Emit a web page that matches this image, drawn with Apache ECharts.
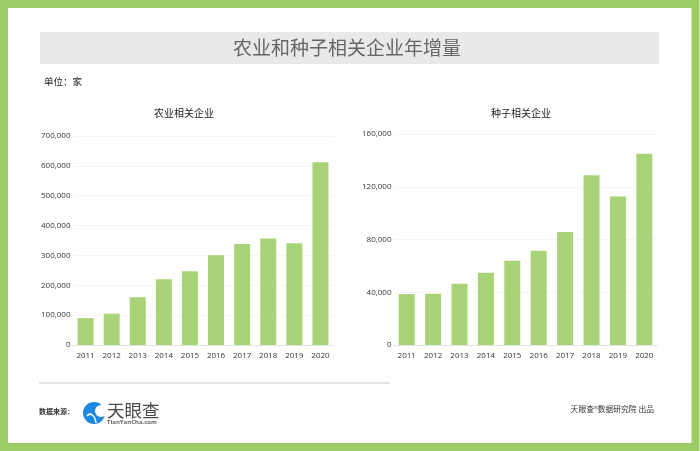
<!DOCTYPE html>
<html>
<head>
<meta charset="utf-8">
<script src="https://cdn.jsdelivr.net/npm/echarts@6/dist/echarts.min.js"></script>
<style>
html, body { margin: 0; padding: 0; background: #fff; }
#charts { width: 700px; height: 451px; }
</style>
</head>
<body>
<div id="charts"></div>
<script>
const years = ['2011', '2012', '2013', '2014', '2015', '2016', '2017', '2018', '2019', '2020'];
const farmValues = [90000, 105000, 160000, 220000, 247000, 301000, 338000, 357000, 341000, 612000];
const seedValues = [38600, 38900, 46500, 54800, 63900, 71500, 85600, 128800, 112600, 145000];

const mainTitle = '农业和种子相关企业年增量';
const unitText = '单位：家';
const farmTitle = '农业相关企业';
const seedTitle = '种子相关企业';
const sourceText = '数据来源：';
const brandText = '天眼查';
const brandUrl = 'TianYanCha.com';
const creditText = '天眼查®数据研究院 出品';

const cjk = '"Noto Sans CJK SC", sans-serif';
const latin = '"Open Sans", sans-serif';
const barColor = '#a9d377';
const frameColor = '#9ccc65';

const xAxisFor = (index) => ({
	type: 'category',
	gridIndex: index,
	data: years,
	axisTick: { show: false },
	axisLine: { lineStyle: { color: '#e4e4e4', width: 1 } },
	axisLabel: { color: '#333', fontFamily: latin, fontSize: 8, margin: 7, interval: 0 }
});

const yAxisFor = (index, max, interval) => ({
	type: 'value',
	gridIndex: index,
	min: 0,
	max: max,
	interval: interval,
	axisLine: { show: false },
	axisTick: { show: false },
	splitLine: { lineStyle: { color: '#f5f5f5', width: 1 } },
	axisLabel: {
		color: '#333',
		fontFamily: latin,
		fontSize: 8,
		margin: 2,
		padding: [0, 0, 5, 0],
		formatter: (v) => v.toLocaleString('en-US')
	}
});

const barsFor = (index, data) => ({
	type: 'bar',
	xAxisIndex: index,
	yAxisIndex: index,
	data: data,
	barWidth: 16,
	itemStyle: { color: barColor },
	silent: true
});

const myChart = echarts.init(document.getElementById('charts'));
myChart.setOption({
	animation: false,
	backgroundColor: '#fff',
	title: [
		{ text: farmTitle, left: 179, top: 103, textAlign: 'center', textStyle: { color: '#222', fontFamily: cjk, fontSize: 10, fontWeight: 'normal' } },
		{ text: seedTitle, left: 516, top: 103, textAlign: 'center', textStyle: { color: '#222', fontFamily: cjk, fontSize: 10, fontWeight: 'normal' } }
	],
	grid: [
		{ left: 72.5, width: 261, top: 136, height: 209 },
		{ left: 393.5, width: 264, top: 134, height: 211 }
	],
	xAxis: [xAxisFor(0), xAxisFor(1)],
	yAxis: [yAxisFor(0, 700000, 100000), yAxisFor(1, 160000, 40000)],
	series: [barsFor(0, farmValues), barsFor(1, seedValues)],
	graphic: [
		// frame
		{ type: 'rect', z: 0, shape: { x: 4, y: 4, width: 691.5, height: 443 }, style: { fill: 'none', stroke: frameColor, lineWidth: 8 } },
		// title band
		{ type: 'rect', z: 0, shape: { x: 40, y: 32, width: 619, height: 32 }, style: { fill: '#e9e9e9' } },
		{ type: 'text', x: 347, y: 48, style: { text: mainTitle, fill: '#666', font: '19px ' + cjk, textAlign: 'center', textVerticalAlign: 'middle' } },
		{ type: 'text', x: 44, y: 81, style: { text: unitText, fill: '#222', font: '9.5px ' + cjk, textVerticalAlign: 'middle' } },
		// footer
		{ type: 'line', shape: { x1: 39, y1: 383, x2: 390, y2: 383 }, style: { stroke: '#c8c8c8', lineWidth: 1 } },
		{ type: 'text', x: 39, y: 411, style: { text: sourceText, fill: '#333', font: 'bold 7px ' + cjk, textVerticalAlign: 'middle' } },
		// logo mark
		{ type: 'circle', shape: { cx: 94, cy: 413, r: 11 }, style: { fill: '#1e88e5' } },
		{ type: 'circle', shape: { cx: 101, cy: 411, r: 6 }, style: { fill: '#fff' } },
		{ type: 'bezierCurve', shape: { x1: 87, y1: 416, cpx1: 90, cpy1: 412, cpx2: 95, cpy2: 415, x2: 96, y2: 423 }, style: { fill: 'none', stroke: '#fff', lineWidth: 1.5 } },
		{ type: 'text', x: 107, y: 410.5, style: { text: brandText, fill: '#4a4a4a', font: '17.5px ' + cjk, textVerticalAlign: 'middle' } },
		{ type: 'text', x: 107, y: 422, style: { text: brandUrl, fill: '#666', font: 'bold 6px ' + latin, textVerticalAlign: 'middle' } },
		{ type: 'text', x: 654, y: 409, style: { text: creditText, fill: '#333', font: '7.8px ' + cjk, textAlign: 'right', textVerticalAlign: 'middle' } }
	]
});
</script>
</body>
</html>
